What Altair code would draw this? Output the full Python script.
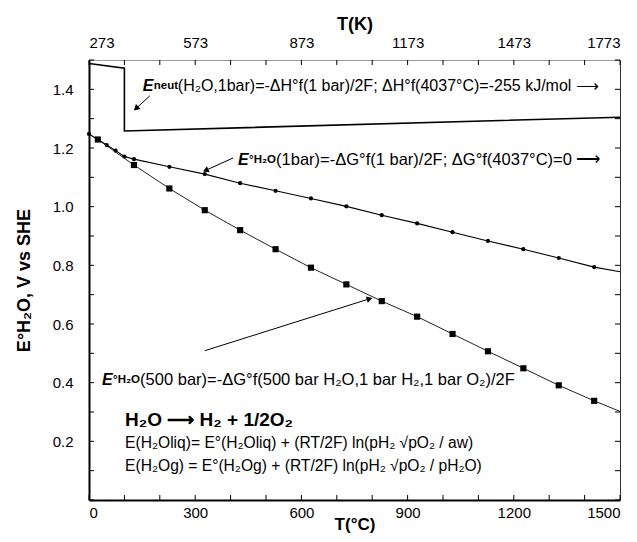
import math
import altair as alt
import pandas as pd

# ---------------- data ----------------
# E°H2O at 1 bar (dots)
t_1bar = [0, 25, 50, 75, 100, 127, 227, 327, 427, 527, 627, 727, 827, 927, 1027, 1127, 1227, 1327, 1427]
e_1bar = [1.248, 1.229, 1.210, 1.191, 1.171, 1.162, 1.136, 1.111, 1.080, 1.054, 1.028, 1.001, 0.971,
          0.943, 0.913, 0.883, 0.855, 0.825, 0.794]
t_1bar_end = [1500]
e_1bar_end = [0.778]

# E°H2O at 500 bar (squares)
t_500 = [25, 127, 227, 327, 427, 527, 627, 727, 827, 927, 1027, 1127, 1227, 1327, 1427]
e_500 = [1.229, 1.142, 1.062, 0.988, 0.920, 0.855, 0.792, 0.735, 0.678, 0.625, 0.566, 0.507,
         0.449, 0.391, 0.338]
t_500_end = [1500]
e_500_end = [0.302]

# Eneut line (liquid then steam, step at 100 °C)
t_neut = [0, 100, 100, 1500]
e_neut = [1.488, 1.472, 1.258, 1.305]

# axes
x_labels = [0, 300, 600, 900, 1200, 1500]
y_labels = [0.2, 0.4, 0.6, 0.8, 1.0, 1.2, 1.4]
x_minor = list(range(0, 1501, 100))
y_minor = [round(0.1 * i, 1) for i in range(0, 16)]

W, H = 531, 440
XD, YD = [0, 1500], [0, 1.5]
FONT = "Liberation Sans"

xs = alt.Scale(domain=XD, nice=False, zero=False)
ys = alt.Scale(domain=YD, nice=False, zero=False)


def px(t, e):
    return (t - XD[0]) / (XD[1] - XD[0]) * W, H - (e - YD[0]) / (YD[1] - YD[0]) * H


def line_df(ts, es):
    return pd.DataFrame({"T": ts, "E": es, "o": list(range(len(ts)))})


def line(ts, es, width=1.0, color="black"):
    return alt.Chart(line_df(ts, es)).mark_line(color=color, strokeWidth=width).encode(
        x=alt.X("T:Q", scale=xs, axis=None),
        y=alt.Y("E:Q", scale=ys, axis=None),
        order="o:Q",
    )


def pts(ts, es, shape, size):
    return alt.Chart(pd.DataFrame({"T": ts, "E": es})).mark_point(
        shape=shape, size=size, filled=True, color="black", opacity=1
    ).encode(
        x=alt.X("T:Q", scale=xs, axis=None),
        y=alt.Y("E:Q", scale=ys, axis=None),
    )


layers = []
layers.append(line(t_neut, e_neut, 1.6))
layers.append(line(t_1bar + t_1bar_end, e_1bar + e_1bar_end, 1.1))
layers.append(pts(t_1bar, e_1bar, "circle", 18))
layers.append(line(t_500 + t_500_end, e_500 + e_500_end, 1.0, "#222"))
layers.append(pts(t_500, e_500, "square", 38))

# ---------------- axes with inward ticks ----------------
axis_common = dict(
    labelFont=FONT, labelFontSize=15, labelColor="black", titleFont=FONT,
    titleFontWeight="bold", titleColor="black",
    ticks=False, tickSize=0, grid=False,
)
xdf = pd.DataFrame({"t": x_minor})
ydf = pd.DataFrame({"v": y_minor})

bottom = alt.Chart(xdf).mark_rule(color="black", strokeWidth=1).encode(
    x=alt.X("t:Q", scale=xs, axis=alt.Axis(
        orient="bottom", values=x_labels, format="d", title="T(°C)", labelPadding=5,
        titleBaseline="middle", titleY=24, titleFontSize=17,
        domainWidth=2, domainColor="black", **axis_common)),
    y=alt.value(H), y2=alt.value(H - 5),
)
top = alt.Chart(xdf).mark_rule(color="black", strokeWidth=1).encode(
    x=alt.X("t:Q", scale=xs, axis=alt.Axis(
        orient="top", values=x_labels, title="T(K)", labelExpr="datum.value + 273",
        labelPadding=10, titlePadding=2, titleFontSize=18,
        domainWidth=1, domainColor="#999", **axis_common)),
    y=alt.value(0), y2=alt.value(5),
)
left = alt.Chart(ydf).mark_rule(color="black", strokeWidth=1).encode(
    y=alt.Y("v:Q", scale=ys, axis=alt.Axis(
        orient="left", values=y_labels, format=".1f", title="E°H₂O, V vs SHE",
        labelPadding=16, titlePadding=19, titleFontSize=18,
        domainWidth=2, domainColor="black", **axis_common)),
    x=alt.value(0), x2=alt.value(5),
)
right = alt.Chart(ydf).mark_rule(color="black", strokeWidth=1).encode(
    y=alt.Y("v:Q", scale=ys, axis=alt.Axis(
        orient="right", values=y_labels, labels=False, title=None,
        domainWidth=1, domainColor="#333", **axis_common)),
    x=alt.value(W), x2=alt.value(W - 5),
)
layers += [bottom, top, left, right]


# ---------------- annotations ----------------
def segs(t, e, parts):
    out = []
    for text, size, weight, style, dx in parts:
        out.append(alt.Chart(pd.DataFrame({"T": [t], "E": [e], "s": [text]})).mark_text(
            align="left", baseline="middle", font=FONT, fontSize=size,
            fontWeight=weight, fontStyle=style, dx=dx, color="black"
        ).encode(
            x=alt.X("T:Q", scale=xs, axis=None),
            y=alt.Y("E:Q", scale=ys, axis=None),
            text="s:N",
        ))
    return out


ann_neut = (152, 1.41)
ann_1bar = (421, 1.159)
ann_500 = (37, 0.41)
layers += segs(*ann_neut, [
    ("E", 16, "bold", "italic", 0),
    ("neut", 11.5, "bold", "normal", 11),
    ("(H₂O,1bar)=-ΔH°f(1 bar)/2F; ΔH°f(4037°C)=-255 kJ/mol ⟶", 16, "normal", "normal", 35),
])
layers += segs(*ann_1bar, [
    ("E", 16, "bold", "italic", 0),
    ("°H₂O", 11.5, "bold", "normal", 11),
    ("(1bar)=-ΔG°f(1 bar)/2F;  ΔG°f(4037°C)=0  ⟶", 16.5, "normal", "normal", 38),
])
layers += segs(*ann_500, [
    ("E", 16, "bold", "italic", 0),
    ("°H₂O", 11.5, "bold", "normal", 11),
    ("(500 bar)=-ΔG°f(500 bar H₂O,1 bar H₂,1 bar O₂)/2F", 16.5, "normal", "normal", 38),
])
layers += segs(102, 0.274, [("H₂O ⟶ H₂ + 1/2O₂", 19, "bold", "normal", 0)])
layers += segs(102, 0.195, [("E(H₂Oliq)= E°(H₂Oliq) + (RT/2F) ln(pH₂ √pO₂ / aw)", 15.6, "normal", "normal", 0)])
layers += segs(102, 0.116, [("E(H₂Og) = E°(H₂Og) + (RT/2F) ln(pH₂ √pO₂ / pH₂O)", 15.6, "normal", "normal", 0)])

# arrows (start, tip) in data units
arrows = [
    ((172, 1.378), (135, 1.337)),
    ((407, 1.166), (332, 1.125)),
    ((327, 0.509), (790, 0.685)),
]
for (t0, e0), (t1, e1) in arrows:
    layers.append(alt.Chart(pd.DataFrame({"T": [t0], "E": [e0], "T2": [t1], "E2": [e1]})).mark_rule(
        color="black", strokeWidth=1).encode(
        x=alt.X("T:Q", scale=xs, axis=None), y=alt.Y("E:Q", scale=ys, axis=None),
        x2="T2:Q", y2="E2:Q"))
    (x0, y0), (x1, y1) = px(t0, e0), px(t1, e1)
    ang = math.degrees(math.atan2(x1 - x0, -(y1 - y0))) % 360
    layers.append(alt.Chart(pd.DataFrame({"T": [t1], "E": [e1]})).mark_point(
        shape="triangle", size=45, filled=True, color="black", opacity=1, angle=ang).encode(
        x=alt.X("T:Q", scale=xs, axis=None), y=alt.Y("E:Q", scale=ys, axis=None)))

chart = alt.layer(*layers).resolve_axis(x="independent", y="independent").properties(
    width=W, height=H,
    autosize=alt.AutoSizeParams(type="none"),
    padding={"left": 81, "top": 52, "right": 9, "bottom": 34},
).configure_view(stroke=None).configure(background="white")

chart.save("out.html", embed_options={"renderer": "svg", "actions": False})
